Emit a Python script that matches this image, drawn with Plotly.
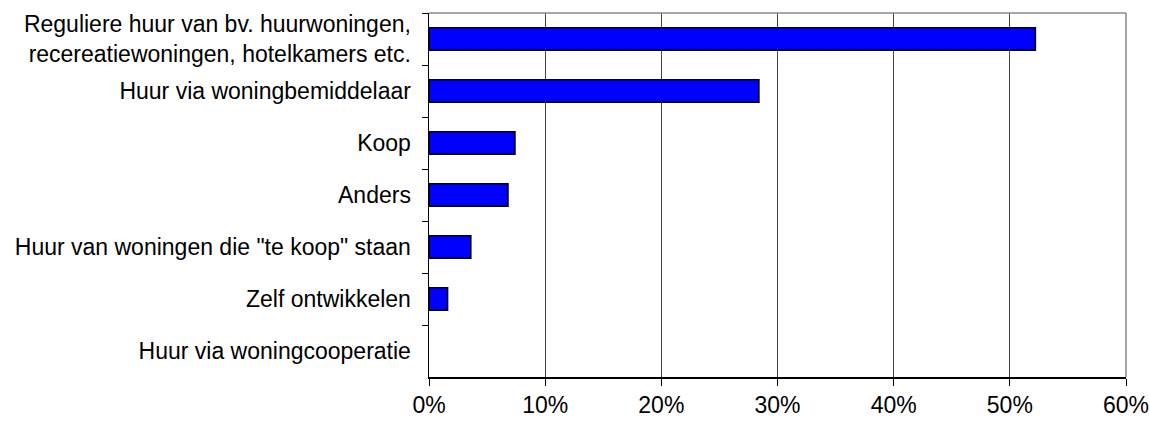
import plotly.graph_objects as go

categories = [
    "Reguliere huur van bv. huurwoningen,<br>recereatiewoningen, hotelkamers etc.",
    "Huur via woningbemiddelaar",
    "Koop",
    "Anders",
    "Huur van woningen die \"te koop\" staan",
    "Zelf ontwikkelen",
    "Huur via woningcooperatie",
]
values = [52.2, 28.4, 7.4, 6.8, 3.6, 1.6, 0.0]
x_tickvals = [0, 10, 20, 30, 40, 50, 60]
x_ticktext = ["0%", "10%", "20%", "30%", "40%", "50%", "60%"]

line_widths = [1.5 if v > 0 else 0 for v in values]

fig = go.Figure(go.Bar(
    x=values, y=categories, orientation="h",
    marker=dict(color="#0000FF", line=dict(color="#000000", width=line_widths)),
    hoverinfo="skip",
))

font = dict(family="Liberation Sans, Arial, sans-serif", size=23, color="#000000")

fig.update_layout(
    width=1150, height=421,
    margin=dict(l=429, r=24, t=13, b=44, autoexpand=False),
    paper_bgcolor="white", plot_bgcolor="white",
    bargap=0.57, showlegend=False, font=font,
    xaxis=dict(range=[0, 60], tickvals=x_tickvals, ticktext=x_ticktext,
               showgrid=True, gridcolor="#444444", gridwidth=1,
               showline=True, linecolor="#000000", linewidth=1.5,
               ticks="outside", ticklen=7, tickcolor="#000000",
               zeroline=False, tickfont=font, fixedrange=True,
               automargin=False, ticklabeloverflow="allow"),
    yaxis=dict(autorange="reversed", showgrid=False,
               showline=True, linecolor="#000000", linewidth=1.5,
               ticks="outside", ticklen=6, tickcolor="#000000",
               tickson="boundaries", ticklabelstandoff=12,
               tickfont=font, fixedrange=True, automargin=False,
               ticklabeloverflow="allow"),
    shapes=[
        dict(type="line", xref="paper", yref="paper", x0=0, x1=1, y0=1, y1=1,
             line=dict(color="#888888", width=1.5)),
        dict(type="line", xref="paper", yref="paper", x0=1, x1=1, y0=0, y1=1,
             line=dict(color="#888888", width=1.5)),
    ],
)

fig.write_html(
    "out.html",
    config={"displayModeBar": False, "staticPlot": True},
    post_script="document.body.style.margin='0';document.body.style.overflow='hidden';",
)
